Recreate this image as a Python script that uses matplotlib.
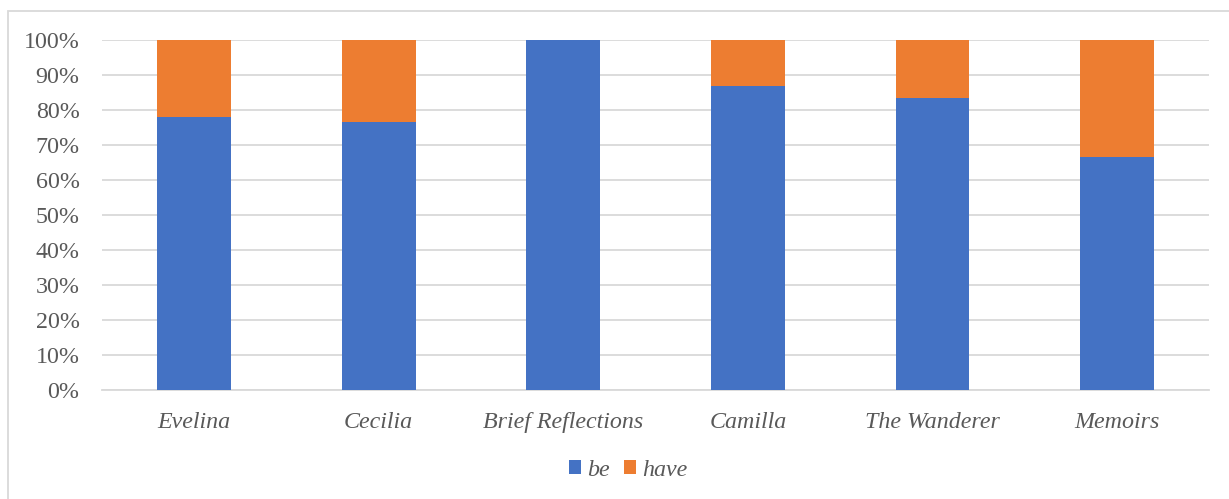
import matplotlib
matplotlib.use("Agg")
import matplotlib.pyplot as plt
from matplotlib.patches import Rectangle

# Share of "be" vs "have" auxiliaries per work
works = ["Evelina", "Cecilia", "Brief Reflections", "Camilla", "The Wanderer", "Memoirs"]
be_share = [78.0, 76.7, 100.0, 86.9, 83.3, 66.7]
have_share = [100.0 - v for v in be_share]
y_ticks = [0, 10, 20, 30, 40, 50, 60, 70, 80, 90, 100]
y_tick_labels = [f"{t}%" for t in y_ticks]

BLUE = "#4472C4"
ORANGE = "#ED7D31"
GRID = "#D9D9D9"
TEXT = "#595959"

plt.rcParams["font.family"] = ["Liberation Serif", "DejaVu Serif"]

fig = plt.figure(figsize=(12.29, 4.99), dpi=100)
ax = fig.add_axes([0.0828, 0.2184, 0.9013, 0.7014])

x = range(len(works))
ax.bar(x, be_share, width=0.4, color=BLUE, label="be", zorder=3)
ax.bar(x, have_share, width=0.4, bottom=be_share, color=ORANGE, label="have", zorder=3)

ax.set_xlim(-0.5, len(works) - 0.5)
ax.set_ylim(0, 100)
ax.set_yticks(y_ticks)
ax.set_yticklabels(y_tick_labels, fontsize=17.3, color=TEXT)
ax.set_xticks(list(x))
ax.set_xticklabels(works, fontsize=17.3, color=TEXT, style="italic")
ax.tick_params(axis="y", length=0, pad=16)
ax.tick_params(axis="x", length=0, pad=16)
ax.yaxis.grid(True, color=GRID, linewidth=1.3, zorder=0)
ax.set_axisbelow(True)
for side in ["top", "right", "left"]:
    ax.spines[side].set_visible(False)
ax.spines["bottom"].set_color(GRID)
ax.spines["bottom"].set_linewidth(1.3)

leg = fig.legend(loc="center", bbox_to_anchor=(628 / 1229, 1 - 470 / 499), ncol=2,
                 frameon=False, handlelength=0.5, handleheight=0.5,
                 handletextpad=0.25, columnspacing=0.6,
                 prop={"size": 17.3, "style": "italic"})
for t in leg.get_texts():
    t.set_color(TEXT)

# Outer chart border
fig.patches.append(Rectangle((8 / 1229, -0.1), 1.0, 1 - 11 / 499 + 0.1,
                             transform=fig.transFigure, fill=False,
                             edgecolor=GRID, linewidth=1.3))

fig.savefig("out.png", dpi=100)
